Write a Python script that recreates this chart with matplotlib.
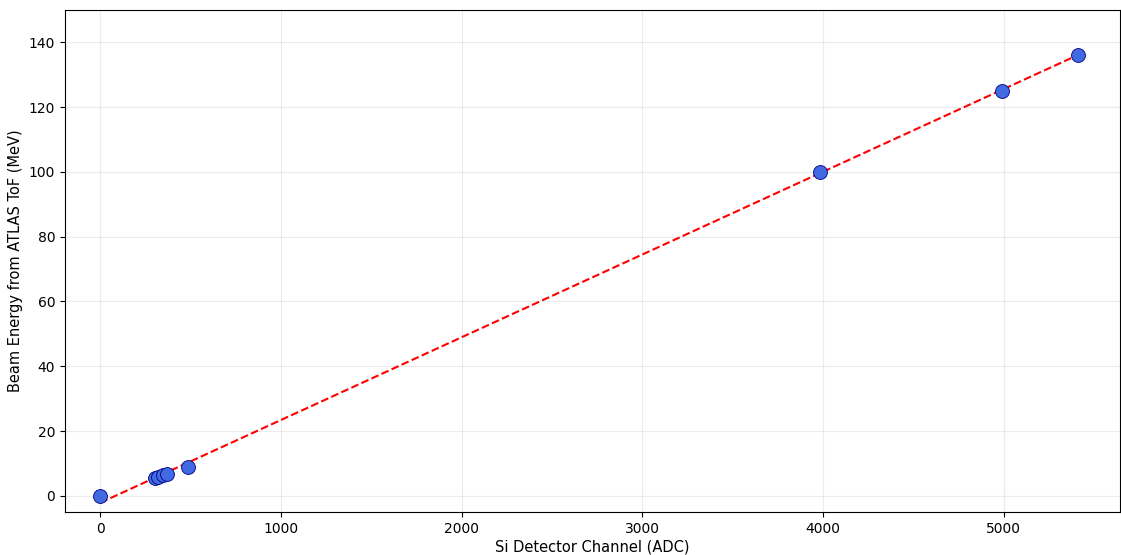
import matplotlib
matplotlib.use("Agg")
import matplotlib.pyplot as plt
import numpy as np

# calibration points: Si detector ADC channel vs beam energy from ToF
adc = np.array([0, 302, 318, 346, 368, 484, 3982, 4989, 5410])
energy = np.array([0.0, 5.5, 5.8, 6.4, 6.8, 8.9, 100.0, 125.0, 136.2])

# linear calibration
slope, intercept = np.polyfit(adc, energy, 1)
xfit = np.linspace(adc.min(), adc.max(), 200)

fig = plt.figure(figsize=(11.21, 5.55), dpi=100)
ax = fig.add_axes([65 / 1121, 43 / 555, 1055 / 1121, 502 / 555])

ax.plot(xfit, slope * xfit + intercept, "r--", linewidth=1.5, zorder=2)
ax.scatter(adc, energy, s=100, color="royalblue", edgecolors="navy",
           linewidths=0.6, zorder=3)

ax.set_xlim(-196, 5645)
ax.set_ylim(-5, 150)
ax.set_xlabel("Si Detector Channel (ADC)", fontsize=10.5, labelpad=3)
ax.set_ylabel("Beam Energy from ATLAS ToF (MeV)", fontsize=10.5)
ax.grid(True, alpha=0.25)

fig.savefig("out.png", dpi=100)
